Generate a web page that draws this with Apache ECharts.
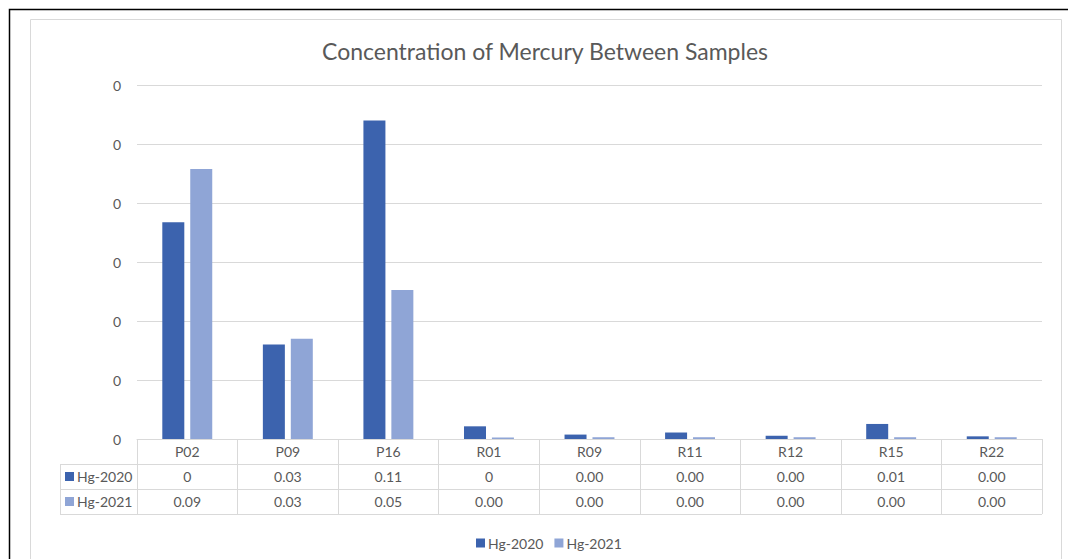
<!DOCTYPE html>
<html>
<head>
<meta charset="utf-8">
<script src="https://cdn.jsdelivr.net/npm/echarts@6/dist/echarts.min.js"></script>
<style>html,body{margin:0;padding:0;background:#fff}#c{width:1068px;height:559px}</style>
</head>
<body>
<div id="c"></div>
<script>
const categories = ['P02', 'P09', 'P16', 'R01', 'R09', 'R11', 'R12', 'R15', 'R22'];
const hg2020 = [0.0735, 0.032, 0.108, 0.0043, 0.0015, 0.0022, 0.0011, 0.0051, 0.0009];
const hg2021 = [0.0915, 0.034, 0.0505, 0.0005, 0.0006, 0.0006, 0.0006, 0.0006, 0.0006];
const table2020 = ['0', '0.03', '0.11', '0', '0.00', '0.00', '0.00', '0.01', '0.00'];
const table2021 = ['0.09', '0.03', '0.05', '0.00', '0.00', '0.00', '0.00', '0.00', '0.00'];
const seriesNames = ['Hg-2020', 'Hg-2021'];
const colors = ['#3c63ae', '#8fa5d6'];

const FONT = 'Lato, "Open Sans", sans-serif';
const TXT = '#595959';
const LINE = '#d9d9d9';

const chart = echarts.init(document.getElementById('c'), null, {renderer: 'svg'});
const gridLeft = 137, gridRight = 26, gridTop = 85, gridBottom = 120;
const W = 1068, H = 559;
const axisY = H - gridBottom;
const rowH = 25;

const graphics = [
  {type: 'rect', shape: {x: 9.5, y: 9.5, width: 1080, height: 580}, style: {fill: 'none', stroke: '#000', lineWidth: 1.5}, silent: true},
  {type: 'rect', shape: {x: 30.5, y: 19.5, width: 1031, height: 580}, style: {fill: 'none', stroke: LINE, lineWidth: 1}, silent: true}
];
// table horizontal lines
for (let r = 1; r <= 3; r++) {
  graphics.push({type: 'line', shape: {x1: 60, y1: axisY + rowH * r + 0.5, x2: W - gridRight, y2: axisY + rowH * r + 0.5}, style: {stroke: LINE, lineWidth: 1}, silent: true});
}
graphics.push({type: 'line', shape: {x1: 60.5, y1: axisY + rowH, x2: 60.5, y2: axisY + rowH * 3}, style: {stroke: LINE, lineWidth: 1}, silent: true});
// left column legend keys
seriesNames.forEach((n, i) => {
  const cy = axisY + rowH * (i + 1) + rowH / 2;
  graphics.push({type: 'rect', shape: {x: 65, y: cy - 4.5, width: 9, height: 9}, style: {fill: colors[i]}, silent: true});
  graphics.push({type: 'text', x: 77, y: cy, style: {text: n, font: '14px ' + FONT, fill: TXT, textVerticalAlign: 'middle', verticalAlign: 'middle'}, silent: true});
});

chart.setOption({
  animation: false,
  color: colors,
  title: {
    text: 'Concentration of Mercury Between Samples',
    left: 540, top: 34, textAlign: 'center',
    textStyle: {fontFamily: FONT, fontSize: 23, fontWeight: 'normal', color: TXT}
  },
  legend: {
    left: 471, top: 531,
    itemWidth: 9, itemHeight: 9, itemGap: 11,
    icon: 'rect',
    textStyle: {fontFamily: FONT, fontSize: 14, color: TXT, padding: [0, 0, 0, -2]},
    data: seriesNames
  },
  grid: {left: gridLeft, right: gridRight, top: gridTop, bottom: gridBottom},
  xAxis: {
    type: 'category',
    data: categories,
    axisLine: {lineStyle: {color: LINE}},
    axisTick: {show: true, length: rowH * 3, interval: 0, lineStyle: {color: LINE}},
    axisLabel: {
      interval: 0, margin: 0,
      formatter: (v, i) => `{c|${v}}\n{c|${table2020[i]}}\n{c|${table2021[i]}}`,
      rich: {c: {fontFamily: FONT, fontSize: 14, color: TXT, lineHeight: rowH, height: rowH}}
    }
  },
  yAxis: {
    type: 'value', min: 0, max: 0.12, interval: 0.02,
    axisLine: {show: false}, axisTick: {show: false},
    splitLine: {lineStyle: {color: LINE}},
    axisLabel: {formatter: () => '0', fontFamily: FONT, fontSize: 14, color: TXT, margin: 16}
  },
  graphic: graphics,
  series: [
    {name: seriesNames[0], type: 'bar', data: hg2020, barWidth: 22, barGap: '27%'},
    {name: seriesNames[1], type: 'bar', data: hg2021, barWidth: 22, barGap: '27%'}
  ]
});
</script>
</body>
</html>
